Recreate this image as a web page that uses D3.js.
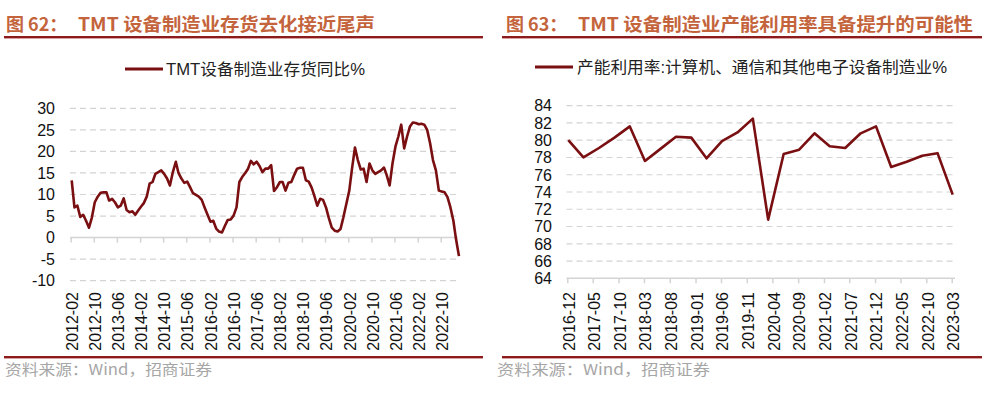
<!DOCTYPE html>
<html><head><meta charset="utf-8">
<script src="https://cdn.jsdelivr.net/npm/d3@7"></script>
<style>
html,body{margin:0;padding:0;background:#fff;}
svg{display:block;}
</style></head>
<body>
<svg id="c" width="1000" height="393"></svg>
<script>
// ---------- DATA ----------
const leftTitleA = "图 62：";
const leftTitleB = "TMT 设备制造业存货去化接近尾声";
const rightTitleA = "图 63：";
const rightTitleB = "TMT 设备制造业产能利用率具备提升的可能性";
const leftLegend = "TMT设备制造业存货同比%";
const rightLegend = "产能利用率:计算机、通信和其他电子设备制造业%";
const sourceText = "资料来源：Wind，招商证券";

const leftStart = "2012-02";
const leftValues = [
 13.3, 7.0, 7.4, 4.8, 5.3, 3.9, 2.3, 4.7, 8.2, 9.5, 10.4, 10.5, 10.5, 8.6, 9.0, 8.2,
 7.0, 7.4, 9.1, 6.4, 5.9, 6.1, 5.3, 6.3, 7.2, 8.0, 9.5, 12.5, 12.9, 14.8, 15.2, 15.6,
 14.8, 13.7, 12.1, 15.2, 17.6, 15.0, 13.7, 12.7, 13.0, 11.7, 10.3, 9.9, 9.5, 8.75, 7.0, 5.3,
 3.7, 3.9, 2.1, 1.4, 1.2, 2.7, 4.1, 4.2, 5.1, 7.0, 12.9, 14.1, 15.0, 15.9, 17.8, 17.0,
 17.6, 16.6, 15.2, 16.0, 16.0, 16.8, 10.8, 11.7, 12.9, 12.9, 10.9, 12.7, 12.9, 14.5, 16.0, 16.2,
 16.2, 13.3, 13.0, 11.6, 9.5, 7.4, 9.0, 8.75, 7.0, 4.5, 2.3, 1.6, 1.4, 2.0, 4.7, 7.8,
 10.9, 16.0, 20.9, 18.0, 15.8, 16.0, 12.9, 17.2, 15.6, 14.8, 15.2, 15.6, 16.25, 14.5, 12.1, 17.2,
 21.1, 23.4, 26.2, 20.7, 23.4, 25.8, 26.7, 26.6, 26.3, 26.4, 26.2, 25.0, 21.9, 18.0, 15.6, 10.9,
 10.7, 10.5, 9.4, 7.0, 3.9, -0.4, -4.3
];
const leftTickLabels = ["2012-02","2012-10","2013-06","2014-02","2014-10","2015-06","2016-02","2016-10",
 "2017-06","2018-02","2018-10","2019-06","2020-02","2020-10","2021-06","2022-02","2022-10"];
const leftYTicks = [30,25,20,15,10,5,0,-5,-10];

const rightDates = ["2016-12","2017-03","2017-06","2017-09","2017-12","2018-03","2018-06","2018-09","2018-12",
 "2019-03","2019-06","2019-09","2019-12","2020-03","2020-06","2020-09","2020-12","2021-03","2021-06",
 "2021-09","2021-12","2022-03","2022-06","2022-09","2022-12","2023-03"];
const rightValues = [80.0,78.0,79.1,80.3,81.6,77.6,79.0,80.4,80.3,77.9,79.9,80.9,82.5,70.8,78.4,78.9,80.8,
 79.3,79.1,80.8,81.6,76.9,77.5,78.2,78.5,73.7];
const rightTickLabels = ["2016-12","2017-05","2017-10","2018-03","2018-08","2019-01","2019-06","2019-11",
 "2020-04","2020-09","2021-02","2021-07","2021-12","2022-05","2022-10","2023-03"];
const rightYTicks = [84,82,80,78,76,74,72,70,68,66,64];

// ---------- STYLE ----------
const titleColor = "#c4643c";
const lineColor = "#7a0f12";
const ruleColor = "#8c1c1c";
const gridColor = "#d4d4d4";
const latin = "'Liberation Sans', Arial, sans-serif";
const cjk = "'Liberation Sans', 'Noto Sans CJK SC', sans-serif";

const parse = d3.timeParse("%Y-%m");
const svg = d3.select("#c");

function panel(o) {
  const g = svg.append("g");
  // title
  g.append("text").attr("x", o.tx).attr("y", 31).attr("font-family", "'Noto Sans CJK SC', sans-serif")
    .attr("font-weight", "bold").attr("font-size", 18).attr("fill", titleColor).text(o.titleA);
  g.append("text").attr("x", o.tbx).attr("y", 31).attr("font-family", "'Noto Sans CJK SC', sans-serif")
    .attr("font-weight", "bold").attr("font-size", 18).attr("fill", titleColor)
    .attr("textLength", o.tbw).attr("lengthAdjust", "spacingAndGlyphs").text(o.titleB);
  // top & bottom rules
  [37, 357].forEach(yy => {
    g.append("line").attr("x1", o.rx1).attr("x2", o.rx2).attr("y1", yy).attr("y2", yy)
      .attr("stroke", ruleColor).attr("stroke-width", 2);
    g.append("line").attr("x1", o.rx1).attr("x2", o.rx2).attr("y1", yy + 1.5).attr("y2", yy + 1.5)
      .attr("stroke", "#d8a0a0").attr("stroke-width", 1);
  });
  // legend
  g.append("line").attr("x1", o.lx1).attr("x2", o.lx2).attr("y1", o.ly).attr("y2", o.ly)
    .attr("stroke", lineColor).attr("stroke-width", 3);
  g.append("text").attr("x", o.ltx).attr("y", o.ly + 6).attr("font-family", cjk).attr("font-size", 16)
    .attr("fill", "#222").attr("textLength", o.ltw).attr("lengthAdjust", "spacingAndGlyphs").text(o.legend);

  const x = d3.scaleTime().domain(o.xDomain.map(parse)).range(o.xRange);
  const y = d3.scaleLinear().domain(o.yDomain).range(o.yRange);

  // grid
  g.append("g").selectAll("line").data(o.yTicks.filter(v => v !== o.axisVal)).join("line")
    .attr("x1", o.gx1).attr("x2", o.gx2).attr("y1", d => y(d)).attr("y2", d => y(d))
    .attr("stroke", gridColor).attr("stroke-width", 1.2).attr("stroke-dasharray", "6,4");
  // y labels
  g.append("g").selectAll("text").data(o.yTicks).join("text")
    .attr("x", o.ylx).attr("y", d => y(d)).attr("dy", "0.36em").attr("text-anchor", "end")
    .attr("font-family", latin).attr("font-size", 16).attr("fill", "#111").text(d => d);
  // x axis line at axisVal with ticks
  const ax = d3.axisBottom(x).tickValues(o.xTicks.map(parse)).tickSize(5).tickFormat("");
  const axG = g.append("g").attr("transform", `translate(0,${y(o.axisVal)})`).call(ax);
  axG.select(".domain").attr("d", `M${o.gx1},0H${o.gx2}`).attr("stroke", gridColor).attr("stroke-width", 1.5);
  axG.selectAll(".tick line").attr("stroke", gridColor).attr("stroke-width", 1.5);
  // x labels
  g.append("g").selectAll("text").data(o.xTicks).join("text")
    .attr("transform", d => `translate(${x(parse(d)) + 1.5},292) rotate(-90)`)
    .attr("dy", "0.36em").attr("text-anchor", "end")
    .attr("font-family", latin).attr("font-size", 16).attr("fill", "#111").text(d => d);
  // line
  const line = d3.line().x(d => x(d.date) + 1).y(d => y(d.v));
  g.append("path").datum(o.data).attr("d", line).attr("fill", "none")
    .attr("stroke", lineColor).attr("stroke-width", 2.6).attr("stroke-linejoin", "round");
  // source
  g.append("text").attr("x", o.sx).attr("y", 375).attr("font-family", "'Noto Sans CJK SC', sans-serif")
    .attr("font-size", 15).attr("fill", "#a6a6a6").attr("textLength", o.sw)
    .attr("lengthAdjust", "spacingAndGlyphs").text(sourceText);
}

const leftData = leftValues.map((v, i) => ({date: d3.timeMonth.offset(parse(leftStart), i), v}));
const rightData = rightDates.map((d, i) => ({date: parse(d), v: rightValues[i]}));

panel({
  titleA: leftTitleA, titleB: leftTitleB, tx: 6, tbx: 78, tbw: 297, rx1: 4, rx2: 483,
  legend: leftLegend, lx1: 125, lx2: 163, ly: 69, ltx: 166, ltw: 199,
  xDomain: ["2012-02", "2022-10"], xRange: [70.7, 440.7],
  yDomain: [-10, 30], yRange: [280.7, 108.3], yTicks: leftYTicks, axisVal: 0,
  gx1: 70, gx2: 458, ylx: 55, xTicks: leftTickLabels, data: leftData, sx: 5, sw: 207
});
panel({
  titleA: rightTitleA, titleB: rightTitleB, tx: 506, tbx: 578, tbw: 395, rx1: 502, rx2: 982,
  legend: rightLegend, lx1: 535, lx2: 573, ly: 67, ltx: 577, ltw: 370,
  xDomain: ["2016-12", "2023-03"], xRange: [567.3, 951.7],
  yDomain: [64, 84], yRange: [278.3, 105.7], yTicks: rightYTicks, axisVal: 64,
  gx1: 566.5, gx2: 955, ylx: 552, xTicks: rightTickLabels, data: rightData, sx: 497, sw: 213
});
</script>
</body></html>
